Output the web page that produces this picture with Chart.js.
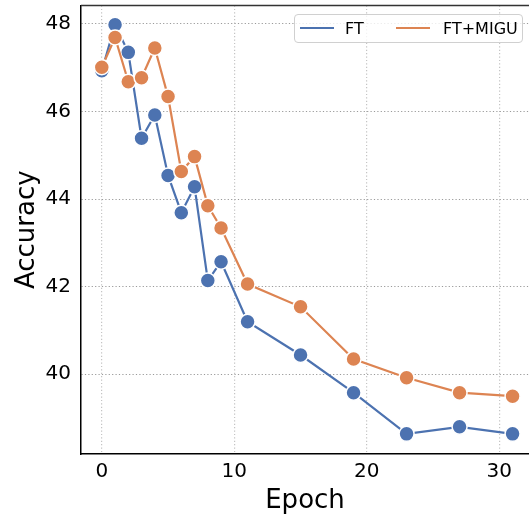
<!DOCTYPE html>
<html>
<head>
<meta charset="utf-8">
<script src="https://cdn.jsdelivr.net/npm/chart.js@4/dist/chart.umd.min.js"></script>
<style>
  html, body { margin: 0; padding: 0; background: #fff; }
  #wrap { position: relative; width: 529px; height: 518px; }
  #legend {
    position: absolute; left: 294px; top: 14px; width: 227px; height: 27px;
    border: 1px solid #d0d0d0; border-radius: 4px; background: rgba(255,255,255,0.8);
    font-family: "DejaVu Sans", sans-serif; font-size: 16px; color: #000;
    box-sizing: content-box;
  }
  .swatch { position: absolute; top: 12px; width: 34px; height: 2px; }
  .label { position: absolute; top: 0; }
</style>
</head>
<body>
<div id="wrap">
  <canvas id="c" width="529" height="518"></canvas>
  <div id="legend"></div>
</div>
<script>
const epochs = [0, 1, 2, 3, 4, 5, 6, 7, 8, 9, 11, 15, 19, 23, 27, 31];
const ftAcc = [46.93, 47.98, 47.35, 45.39, 45.92, 44.54, 43.69, 44.28, 42.14, 42.57, 41.20, 40.44, 39.58, 38.64, 38.80, 38.64];
const miguAcc = [47.01, 47.69, 46.68, 46.77, 47.45, 46.34, 44.63, 44.97, 43.85, 43.34, 42.06, 41.54, 40.35, 39.92, 39.58, 39.50];
const seriesNames = ["FT", "FT+MIGU"];
const xTicks = [0, 10, 20, 30];
const yTicks = [40, 42, 44, 46, 48];

const blue = "#4C72B0";
const orange = "#DD8452";

function pts(ys) { return epochs.map((e, i) => ({ x: e, y: ys[i] })); }

const datasets = [
  { label: seriesNames[0], data: pts(ftAcc), borderColor: blue, backgroundColor: blue,
    pointBackgroundColor: blue, order: 1 },
  { label: seriesNames[1], data: pts(miguAcc), borderColor: orange, backgroundColor: orange,
    pointBackgroundColor: orange, order: 0 }
].map(d => Object.assign(d, {
  borderWidth: 2.2, tension: 0, pointRadius: 7.5, pointHoverRadius: 7.5,
  pointBorderColor: "#ffffff", pointBorderWidth: 1.5, fill: false, clip: false
}));

const topSpine = {
  id: "topSpine",
  afterDraw(chart) {
    const { ctx, chartArea } = chart;
    ctx.save();
    ctx.strokeStyle = "#333";
    ctx.lineWidth = 1.5;
    ctx.beginPath();
    ctx.moveTo(chartArea.left, chartArea.top);
    ctx.lineTo(chartArea.right, chartArea.top);
    ctx.stroke();
    ctx.restore();
  }
};

function noPad(s) {
  s.paddingTop = 0; s.paddingBottom = 0; s.paddingLeft = 0; s.paddingRight = 0;
}

const font = "'DejaVu Sans', sans-serif";

new Chart(document.getElementById("c"), {
  type: "line",
  data: { datasets },
  options: {
    responsive: false,
    animation: false,
    layout: { autoPadding: false, padding: { top: 5.5, right: 0, left: 0, bottom: 0 } },
    plugins: { legend: { display: false }, tooltip: { enabled: false } },
    scales: {
      x: {
        type: "linear", min: -1.57, max: 32.24,
        afterBuildTicks(s) { s.ticks = xTicks.map(v => ({ value: v })); },
        afterFit(s) { s.height = 64; noPad(s); },
        ticks: { color: "#000", font: { family: font, size: 20 }, padding: 6 },
        grid: { color: "#c4c4c4", lineWidth: 1.2, drawTicks: false },
        border: { display: true, color: "#000", width: 1.5, dash: [1.2, 2.2] },
        title: { display: true, text: "Epoch", color: "#000",
                 font: { family: font, size: 26 }, padding: { top: 0, bottom: 1 } }
      },
      y: {
        type: "linear", min: 38.18, max: 48.42,
        afterBuildTicks(s) { s.ticks = yTicks.map(v => ({ value: v })); },
        afterFit(s) { s.width = 81; noPad(s); },
        ticks: { color: "#000", font: { family: font, size: 20 }, padding: 10 },
        grid: { color: "#9a9a9a", lineWidth: 1, drawTicks: false },
        border: { display: true, color: "#000", width: 1.5, dash: [1.2, 2.2] },
        title: { display: true, text: "Accuracy", color: "#000",
                 font: { family: font, size: 26 }, padding: { top: 12, bottom: 0 } }
      }
    }
  },
  plugins: [topSpine]
});

// HTML legend built from dataset definitions
const legend = document.getElementById("legend");
const itemPos = [{ sw: 5, lb: 50 }, { sw: 101, lb: 148 }];
datasets.forEach((d, i) => {
  const sw = document.createElement("div");
  sw.className = "swatch";
  sw.style.left = itemPos[i].sw + "px";
  sw.style.background = d.borderColor;
  const lb = document.createElement("div");
  lb.className = "label";
  lb.style.left = itemPos[i].lb + "px";
  lb.style.lineHeight = "27px";
  lb.textContent = d.label;
  legend.appendChild(sw);
  legend.appendChild(lb);
});
</script>
</body>
</html>
